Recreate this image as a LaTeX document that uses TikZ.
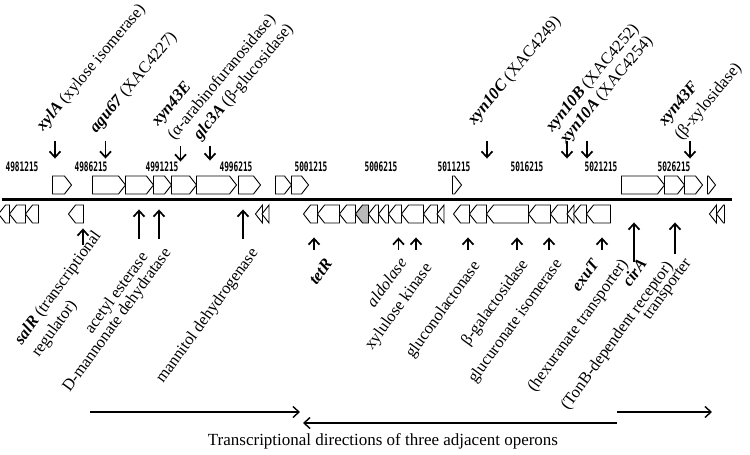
\documentclass[tikz,border=0pt]{standalone}
\usepackage{fontspec}
\setmainfont{Liberation Serif}
\newfontfamily\coordfont{DejaVu Sans Mono}
\usetikzlibrary{positioning,arrows.meta,shapes.symbols}
\newcommand{\gn}[1]{\textbf{\textit{#1}}}
\tikzset{
genemap/.style={
    x=1pt,
    y=-1pt,
    >={Straight Barb[length=6pt,width=11pt]},
    font=\fontsize{16.5}{21}\selectfont
},
gene/.style={
    signal,
    draw,
    line width=0.9pt,
    inner sep=0pt,
    minimum height=18pt,
    signal pointer angle=104,
    fill=white
},
fwd/.style={
    gene,
    signal to=east
},
rev/.style={
    gene,
    signal to=west
},
locus/.style={
    font=\coordfont\bfseries\fontsize{13}{13}\selectfont,
    xscale=0.6,
    transform shape,
    inner sep=0pt
},
upper/.style={
    rotate=50,
    anchor=south west,
    align=left,
    inner sep=0pt
},
lower/.style={
    rotate=54,
    anchor=north east,
    align=left,
    inner sep=0pt
},
pin/.style={
    ->,
    line width=1.7pt
},
operon/.style={
    ->,
    line width=1.4pt
}}

\begin{document}
\begin{tikzpicture}[genemap]
\useasboundingbox (0,0) rectangle (750,455);

% chromosome
\draw[line width=2.5pt] (2,199.5) -- (732,199.5);

% genome positions
\node[locus]    (p1)    at (22,167)     {4981215};
\node[locus]    (p2)    at (91,167)     {4986215};
\node[locus]    (p3)    at (162,167)    {4991215};
\node[locus]    (p4)    at (236,167)    {4996215};
\node[locus]    (p5)    at (311,167)    {5001215};
\node[locus]    (p6)    at (381,167)    {5006215};
\node[locus]    (p7)    at (454,167)    {5011215};
\node[locus]    (p8)    at (527,167)    {5016215};
\node[locus]    (p9)    at (601,167)    {5021215};
\node[locus]    (p10)   at (674,167)    {5026215};

% upper strand
\node[fwd, minimum width=19]    (f1)     at (58.5,185)    {};
\node[fwd, minimum width=33]    (f2)     at (105.5,185)   {};
\node[fwd, minimum width=28]    (f3)     at (136,185)     {};
\node[fwd, minimum width=18]    (f4)     at (159,185)     {};
\node[fwd, minimum width=25]    (f5)     at (180.5,185)   {};
\node[fwd, minimum width=40]    (f6)     at (213,185)     {};
\node[fwd, minimum width=22]    (f7)     at (246,185)     {};
\node[fwd, minimum width=16]    (f8)     at (280,185)     {};
\node[fwd, minimum width=17]    (f9)     at (296.5,185)   {};
\node[fwd, minimum width=9]     (f10)    at (453.5,185)   {};
\node[fwd, minimum width=43]    (f11)    at (639.5,185)   {};
\node[fwd, minimum width=20]    (f12)    at (671,185)     {};
\node[fwd, minimum width=18]    (f13)    at (690,185)     {};
\node[fwd, minimum width=8]     (f14)    at (708,185)     {};

% lower strand
\node[rev, minimum width=11]    (r1)     at (7.5,214)     {};
\node[rev, minimum width=16]    (r2)     at (21,214)      {};
\node[rev, minimum width=13]    (r3)     at (35.5,214)    {};
\node[rev, minimum width=15]    (r4)     at (79.5,214)    {};
\node[rev, minimum width=7]     (r5)     at (262.5,214)   {};
\node[rev, minimum width=6]     (r6)     at (269,214)     {};
\node[rev, minimum width=14]    (r7)     at (314,214)     {};
\node[rev, minimum width=22]    (r8)     at (332,214)     {};
\node[rev, minimum width=16]    (r9)     at (351,214)     {};
\node[rev, minimum width=13, fill=gray!55]    (r10)    at (365.5,214)   {};
\node[rev, minimum width=10]    (r11)    at (377,214)     {};
\node[rev, minimum width=10]    (r12)    at (387,214)     {};
\node[rev, minimum width=13]    (r13)    at (398.5,214)   {};
\node[rev, minimum width=22]    (r14)    at (416,214)     {};
\node[rev, minimum width=14]    (r15)    at (434,214)     {};
\node[rev, minimum width=6]     (r16)    at (444,214)     {};
\node[rev, minimum width=16]    (r17)    at (465,214)     {};
\node[rev, minimum width=17]    (r18)    at (481.5,214)   {};
\node[rev, minimum width=42]    (r19)    at (511,214)     {};
\node[rev, minimum width=22]    (r20)    at (543,214)     {};
\node[rev, minimum width=17]    (r21)    at (562.5,214)   {};
\node[rev, minimum width=6]     (r22)    at (574,214)     {};
\node[rev, minimum width=13]    (r23)    at (583.5,214)   {};
\node[rev, minimum width=24]    (r24)    at (602,214)     {};
\node[rev, minimum width=7]     (r25)    at (716.5,214)   {};
\node[rev, minimum width=8]     (r26)    at (724,214)     {};

% arrow ends
\coordinate (hi)     at (0,141);
\coordinate (hi2)    at (0,146);
\coordinate (lo)     at (0,250);
\coordinate (lo1)    at (0,239);
\coordinate (lo2)    at (0,245);
\coordinate (lo3)    at (0,262);
\coordinate (lo4)    at (0,254);

% labels above
\node[upper]    (l1)    at (46,134)     {\gn{xylA} (xylose isomerase)};
\node[upper]    (l2)    at (99,136)     {\gn{agu67} (XAC4227)};
\node[upper]    (l3)    at (177,143)    {\gn{xyn43E}\\(α-arabinofuranosidase)};
\node[upper]    (l4)    at (203,143)    {\gn{glc3A} (β-glucosidase)};
\node[upper]    (l5)    at (477,128)    {\gn{xyn10C} (XAC4249)};
\node[upper]    (l6)    at (555,135)    {\gn{xyn10B} (XAC4252)};
\node[upper]    (l7)    at (569,147)    {\gn{xyn10A} (XAC4254)};
\node[upper]    (l8)    at (684,143)    {\gn{xyn43F}\\(β-xylosidase)};

\path ([xshift=-3.5pt]f1.north |- hi)    edge[pin, shorten >=17pt]    ([xshift=-3.5pt]f1.north);
\path (f2 |- hi)     edge[pin, shorten >=17pt]    (f2);
\path (f5 |- hi2)    edge[pin, shorten >=14pt]    (f5);
\path ([xshift=-3pt]f6.north |- hi2)    edge[pin, shorten >=15pt]    ([xshift=-3pt]f6.north);
\path ([xshift=5.5pt]r18.north |- hi)   edge[pin, shorten >=46pt]    ([xshift=5.5pt]r18.north);
\path ([xshift=4.5pt]r21.north |- hi)   edge[pin, shorten >=46pt]    ([xshift=4.5pt]r21.north);
\path ([xshift=3.5pt]r23.north |- hi)   edge[pin, shorten >=46pt]    ([xshift=3.5pt]r23.north);
\path (f13 |- hi)    edge[pin, shorten >=17pt]    (f13);

% labels below
\node[lower]    (b1)     at (92,229)     {\gn{salR} (transcriptional\\regulator)};
\node[lower]    (b2)     at (139,250)    {acetyl esterase};
\node[lower]    (b3)     at (162,246)    {D-mannonate dehydratase};
\node[lower]    (b4)     at (249,246)    {mannitol dehydrogenase};
\node[lower]    (b5)     at (324,257)    {\gn{tetR}};
\node[lower]    (b6)     at (398,256)    {\textit{aldolase}};
\node[lower]    (b7)     at (423,261)    {xylulose kinase};
\node[lower]    (b8)     at (471,259)    {gluconolactonase};
\node[lower]    (b9)     at (519,257)    {β-galactosidase};
\node[lower]    (b10)    at (553,257)    {glucuronate isomerase};
\node[lower]    (b11)    at (591,257)    {\gn{exuT}};
\node[lower]    (b12)    at (619,257)    {(hexuranate transporter)};
\node[lower]    (b13)    at (638,257)    {\gn{cirA}};
\node[lower]    (b14)    at (664,259)    {(TonB-dependent receptor)};
\node[lower]    (b15)    at (684,257)    {transporter};

\path ([xshift=3.5pt]r4.south |- lo2)   edge[pin, shorten >=5pt]     ([xshift=3.5pt]r4.south);
\path ([xshift=3pt]f3.south |- lo1)     edge[pin, shorten >=15pt]    ([xshift=3pt]f3.south);
\path (f4 |- lo1)    edge[pin, shorten >=15pt]    (f4);
\path ([xshift=-3pt]f7.south |- lo1)    edge[pin, shorten >=15pt]    ([xshift=-3pt]f7.south);
\path (r7 |- lo)     edge[pin, shorten >=14pt]    (r7);
\path (r13 |- lo)    edge[pin, shorten >=14pt]    (r13);
\path (r14 |- lo)    edge[pin, shorten >=14pt]    (r14);
\path ([xshift=3pt]r17.south |- lo)     edge[pin, shorten >=14pt]    ([xshift=3pt]r17.south);
\path ([xshift=6pt]r19.south |- lo)     edge[pin, shorten >=14pt]    ([xshift=6pt]r19.south);
\path ([xshift=6pt]r20.south |- lo)     edge[pin, shorten >=14pt]    ([xshift=6pt]r20.south);
\path (r24 |- lo)    edge[pin, shorten >=14pt]    (r24);
\path ([xshift=-5.5pt]f11.south |- lo3) edge[pin, shorten >=28pt]    ([xshift=-5.5pt]f11.south);
\path ([xshift=4pt]f12.south |- lo4)    edge[pin, shorten >=28pt]    ([xshift=4pt]f12.south);

% operons
\coordinate (o1)    at (90,412);
\coordinate (o2)    at (300,412);
\coordinate (o3)    at (617,423);
\coordinate (o4)    at (303,423);
\coordinate (o5)    at (617,412);
\coordinate (o6)    at (712,412);

\path (o1)    edge[operon]    (o2);
\path (o3)    edge[operon]    (o4);
\path (o5)    edge[operon]    (o6);

\node[font=\fontsize{17}{21}\selectfont]    (cap)    at (383,441)    {Transcriptional directions of three adjacent operons};
\end{tikzpicture}
\end{document}
